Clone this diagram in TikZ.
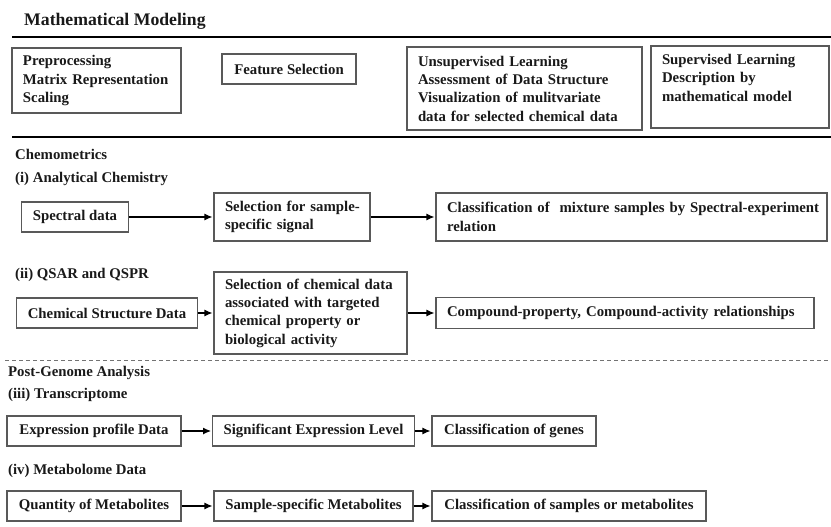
\documentclass[tikz,border=0pt]{standalone}
\usepackage{fontspec}
\setmainfont{Liberation Serif}
\usetikzlibrary{arrows.meta}
\begin{document}
\begin{tikzpicture}[x=1pt,y=-1pt]
        \tikzset{box/.style = {draw=black!65,line width=1.1pt,inner xsep=11pt,inner ysep=0pt,
            font=\bfseries\fontsize{14.8}{18.3}\selectfont,text=black!90}}
        \tikzset{lbox/.style = {box,align=left}}
        \tikzset{sectitle/.style = {anchor=west,inner sep=0pt,font=\bfseries\fontsize{14.8}{18.3}\selectfont,text=black!90}}
        \tikzset{edge/.style = {->,> = {Latex[length=8pt,width=7pt]},line width=1.1pt,shorten >=1pt}}
        \useasboundingbox (0,0) rectangle (831,527);
        % mathematical modeling
        \node[sectitle,font=\bfseries\fontsize{17.7}{20}\selectfont] (mm) at (24,21) {Mathematical Modeling};
        \draw[line width=2.3pt] (12,37) coordinate (r1a) -- (831,37) coordinate (r1b);
        \node[lbox,text width=147pt,minimum height=65pt] (pre) at (96.5,80.5) {Preprocessing\\Matrix Representation\\Scaling};
        \node[box,minimum width=134pt,minimum height=30pt] (feat) at (289,69) {Feature Selection};
        \node[lbox,text width=213pt,minimum height=83pt] (unsup) at (524.5,88.5) {Unsupervised Learning\\Assessment of Data Structure\\Visualization of mulitvariate\\data for selected chemical data};
        \node[lbox,text width=156pt,minimum height=82pt] (sup) at (740,87) {Supervised Learning\\Description by\\mathematical model\\ \mbox{}};
        \draw[line width=2.3pt] (12,137) coordinate (r2a) -- (831,137) coordinate (r2b);
        % chemometrics
        \node[sectitle] (chemo) at (15,154) {Chemometrics};
        \node[sectitle] (anal) at (15,179) {(i) Analytical Chemistry};
        \node[box,minimum width=106pt,minimum height=30pt] (spec) at (75,217) {Spectral data};
        \node[lbox,text width=134pt,minimum height=48pt] (selsig) at (292,217) {\mbox{Selection for sample-}\\specific signal};
        \node[lbox,text width=369pt,minimum height=48pt] (clsmix) at (631.5,217) {\mbox{Classification of~ mixture samples by Spectral-experiment}\\relation};
        \draw[edge] (spec) -- (selsig);
        \draw[edge] (selsig) -- (clsmix);
        \node[sectitle] (qsar) at (15,275) {(ii) QSAR and QSPR};
        \node[box,minimum width=170pt,minimum height=30pt] (chem) at (107,313) {Chemical Structure Data};
        \node[lbox,text width=171pt,minimum height=82pt] (selchem) at (310.5,313) {Selection of chemical data\\associated with targeted\\chemical property or\\biological activity};
        \node[lbox,text width=356pt,minimum height=31pt] (comp) at (625,313) {Compound-property, Compound-activity relationships};
        \draw[edge] (chem) -- (selchem);
        \draw[edge] (selchem) -- (comp);
        \draw[black!55,line width=1pt,dash pattern=on 4pt off 3pt] (5,360) coordinate (d1) -- (831,360) coordinate (d2);
        % post-genome analysis
        \node[sectitle] (post) at (8,373) {Post-Genome Analysis};
        \node[sectitle] (trans) at (8,395) {(iii) Transcriptome};
        \node[box,minimum width=174pt,minimum height=30pt] (expr) at (94,431) {Expression profile Data};
        \node[box,minimum width=199pt,minimum height=30pt] (signif) at (313.5,431) {Significant Expression Level};
        \node[box,minimum width=164pt,minimum height=30pt] (clsgen) at (514,431) {Classification of genes};
        \draw[edge] (expr) -- (signif);
        \draw[edge] (signif) -- (clsgen);
        \node[sectitle] (metab) at (8,471) {(iv) Metabolome Data};
        \node[box,minimum width=174pt,minimum height=30pt] (qty) at (94,506) {Quantity of Metabolites};
        \node[box,minimum width=199pt,minimum height=30pt] (samp) at (313.5,506) {Sample-specific Metabolites};
        \node[box,minimum width=274pt,minimum height=30pt] (clssam) at (569,506) {Classification of samples or metabolites};
        \draw[edge] (qty) -- (samp);
        \draw[edge] (samp) -- (clssam);
\end{tikzpicture}
\end{document}
